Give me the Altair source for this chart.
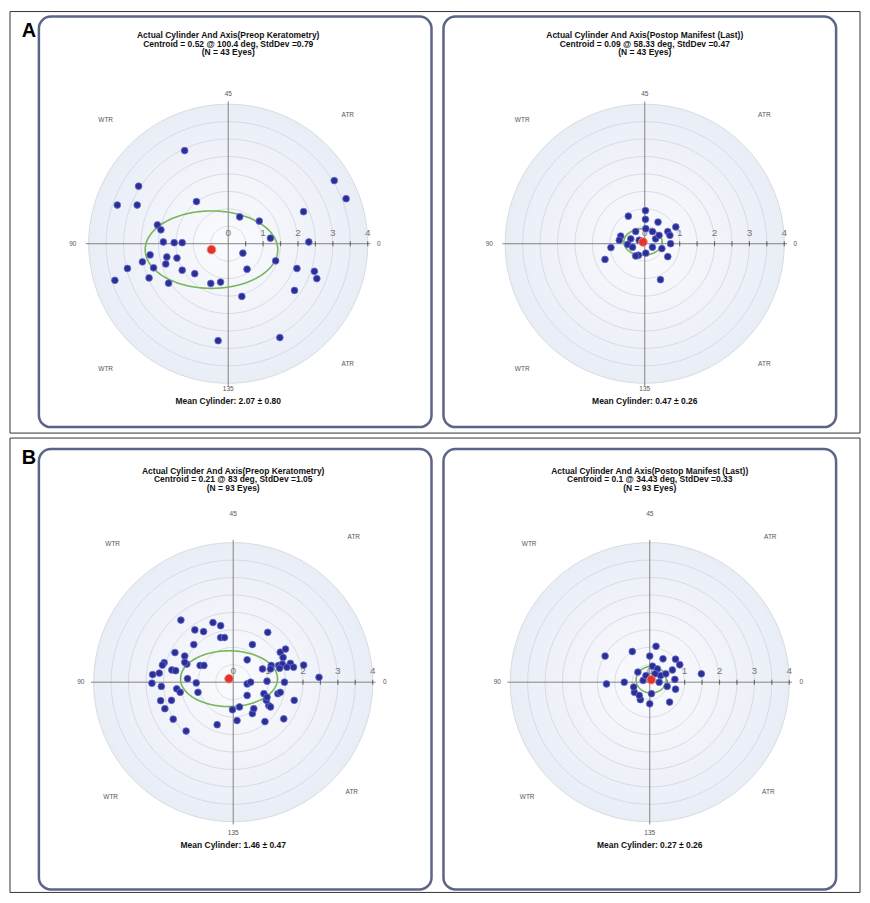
import numpy as np
import pandas as pd
import altair as alt

# ---------------- data (cylinder vectors in double-angle space, diopters) ----------------
A_PRE_X = [-1.25, -2.57, -3.18, -2.61, -0.91, -2.03, -1.93, -1.86, -1.55, -1.32, 0.33, 0.89, 1.21, 2.16,
           3.04, 3.38, 2.31, 0.42, 1.36, 0.54, 1.97, 2.47, 2.54, 1.90, 0.39, -0.22, -0.50, -0.96, -1.32,
           -1.47, -1.76, -1.79, -2.14, -2.24, -2.46, -2.89, -3.25, -2.27, -1.71, -0.29, 1.48]
A_PRE_Y = [2.67, 1.65, 1.11, 1.11, 1.21, 0.54, 0.40, 0.05, 0.03, 0.03, 0.77, 0.65, 0.16, 0.92,
           1.81, 1.29, 0.05, -0.27, -0.49, -0.73, -0.71, -0.79, -1.00, -1.34, -1.51, -1.10, -1.14, -0.86, -0.76,
           -0.41, -0.38, -0.58, -0.69, -0.32, -0.52, -0.71, -1.05, -0.98, -1.13, -2.78, -2.69]

A_POST_X = [0.02, 0.02, -0.47, 0.38, 0.89, 0.66, 0.72, 0.74, -0.69, -0.73, -0.49, -0.97, -1.14, -0.26,
            0.03, -0.18, -0.26, 0.22, 0.49, 0.66, 0.45, 0.03, -0.35, 0.31, 0.41, -0.16, 0.22, -0.40]
A_POST_Y = [0.95, 0.70, 0.79, 0.62, 0.48, 0.35, 0.24, 0.00, 0.22, 0.10, -0.02, -0.11, -0.45, 0.35,
            0.43, -0.33, -0.35, -0.10, -0.14, -0.37, -1.03, -0.27, -0.10, 0.14, 0.24, 0.10, 0.35, 0.14]

B_PRE_X = [-1.50, -1.10, -0.85, -0.58, -0.36, -0.36, -0.25, -1.13, -1.67, -1.39, -1.33, -1.98, -2.03, -1.76,
           -1.65, -2.31, -2.12, -2.33, -2.06, -1.31, -1.06, -0.95, -0.84, -1.62, -1.52, -1.01, -2.08, -1.96,
           -1.77, -1.72, -1.35, -0.46, -0.02, 0.18, 0.11, 0.55, 0.59, 0.91, 1.02, 0.95, 1.07, 1.45, 1.75,
           1.28, 1.35, 1.47, 0.97, 0.40, 0.40, 0.50, 0.84, 1.09, 1.30, 1.41, 1.64, 1.73, 2.02, 2.46, 1.35,
           1.50, 1.43, 0.99, 0.55, 0.40, 1.07, 1.54, 1.33, 0.88, 0.97, -1.39]
B_PRE_Y = [1.78, 1.50, 1.45, 1.71, 1.62, 1.28, 1.28, 1.08, 0.85, 0.75, 0.52, 0.56, 0.49, 0.35,
           0.33, 0.22, 0.26, -0.03, -0.12, 0.10, -0.02, 0.48, 0.48, -0.19, -0.29, -0.29, -0.53, -0.76,
           -0.52, -1.06, -1.40, -1.22, -0.79, -0.71, -1.10, -0.90, -0.76, -1.13, -0.67, -0.52, -0.71, -1.05, -0.52,
           -0.33, -0.29, 0.00, 0.03, -0.38, -0.05, 0.00, 0.38, 0.48, 0.48, 0.52, 0.54, 0.43, 0.49, 0.14, 0.86,
           0.95, 0.71, 1.43, 1.08, 0.64, 0.38, 0.43, 0.40, -0.33, -0.43, 0.57]

B_POST_X = [-1.28, -0.50, 0.18, 0.00, 0.38, 0.74, 0.86, 0.65, 1.48, 0.72, 0.74, 0.57, 0.00, -0.27, -0.44,
            -0.46, -0.73, -1.24, -0.34, 0.08, 0.22, 0.31, 0.50, 0.27, 0.05, -0.19, -0.30, 0.46, -0.11, 0.15]
B_POST_Y = [0.75, 0.88, 1.03, 0.75, 0.67, 0.66, 0.50, 0.35, 0.24, 0.08, -0.20, -0.57, -0.62, -0.50, -0.29,
            -0.14, 0.00, -0.05, 0.29, 0.46, 0.38, 0.19, -0.12, 0.00, -0.33, 0.05, -0.38, 0.24, 0.19, 0.24]

CENTROIDS = [(-0.48, -0.17), (-0.05, 0.05), (-0.12, 0.10), (0.04, 0.07)]
ELLIPSE_AXES = [(1.90, 1.11), (0.55, 0.38), (1.39, 0.80), (0.43, 0.38)]

TITLE_1 = ["Actual Cylinder And Axis(Preop Keratometry)", "Actual Cylinder And Axis(Postop Manifest (Last))",
           "Actual Cylinder And Axis(Preop Keratometry)", "Actual Cylinder And Axis(Postop Manifest (Last))"]
TITLE_2 = ["Centroid = 0.52 @ 100.4 deg, StdDev =0.79", "Centroid = 0.09 @ 58.33 deg, StdDev =0.47",
           "Centroid = 0.21 @ 83 deg, StdDev =1.05", "Centroid = 0.1 @ 34.43 deg, StdDev =0.33"]
TITLE_3 = ["(N = 43 Eyes)", "(N = 43 Eyes)", "(N = 93 Eyes)", "(N = 93 Eyes)"]
MEAN_CYL = ["Mean Cylinder: 2.07 ± 0.80", "Mean Cylinder: 0.47 ± 0.26",
            "Mean Cylinder: 1.46 ± 0.47", "Mean Cylinder: 0.27 ± 0.26"]
AXIS_LABELS = ["45", "90", "135", "0"]
ZONE_LABELS = ["WTR", "ATR", "WTR", "ATR"]
RINGS = [0.5, 1.0, 1.5, 2.0, 2.5, 3.0, 3.5, 4.0]
TICKS = [0.5, 1.0, 1.5, 2.0, 2.5, 3.0, 3.5, 4.0]
TICK_LABELS = ["0", "1", "2", "3", "4"]
LETTERS = ["A", "B"]

# ---------------- layout (pixels) ----------------
UNIT = 35.0
FONT = "Liberation Sans"
W = 394
GAP_X = 12
FRAME_LEFT = -29
FRAME_RIGHT = 2 * W + GAP_X + 24


def panel(i, xs, ys, H, cx, cy, t_y, ax_off, zone_off, mean_dy, frame=None, letter=None):
    xdom = [-cx / UNIT, (W - cx) / UNIT]
    ydom = [-(H - cy) / UNIT, cy / UNIT]
    xsc = alt.Scale(domain=xdom, nice=False, zero=False)
    ysc = alt.Scale(domain=ydom, nice=False, zero=False)

    def X(f):
        return alt.X(f, type="quantitative", scale=xsc, axis=None)

    def Y(f):
        return alt.Y(f, type="quantitative", scale=ysc, axis=None)

    layers = []
    one = pd.DataFrame({"a": [0]})

    # outer frame of the row (drawn from the left panel; flush layout ignores it)
    if frame is not None:
        ft, fb = frame

        def rule(x1, x2, y1, y2):
            return alt.Chart(one).mark_rule(color="#333", strokeWidth=1).encode(
                x=alt.value(x1), x2=alt.value(x2), y=alt.value(y1), y2=alt.value(y2))

        layers += [rule(FRAME_LEFT, FRAME_LEFT, ft, fb), rule(FRAME_RIGHT, FRAME_RIGHT, ft, fb),
                   rule(FRAME_LEFT, FRAME_RIGHT, ft, ft), rule(FRAME_LEFT, FRAME_RIGHT, fb, fb)]

    # disk background
    t = np.linspace(0, np.pi, 361)
    R = RINGS[-1]
    disk = pd.DataFrame({"x": R * np.cos(t), "y": R * np.sin(t), "y2": -R * np.sin(t)})
    grad = {"gradient": "radial", "x1": 0.5, "y1": 0.5, "x2": 0.5, "y2": 0.5, "r1": 0, "r2": 0.5,
            "stops": [{"offset": 0, "color": "#fafbfe"}, {"offset": 1, "color": "#e9edf6"}]}
    layers.append(alt.Chart(disk).mark_area(color=grad, orient="vertical").encode(
        x=X("x"), y=Y("y"), y2=alt.Y2("y2")))
    # rings
    th = np.linspace(0, 2 * np.pi, 241)
    rings = pd.concat([pd.DataFrame({"x": r * np.cos(th), "y": r * np.sin(th), "r": r, "o": np.arange(len(th))})
                       for r in RINGS])
    layers.append(alt.Chart(rings).mark_line(stroke="#d3d7df", strokeWidth=0.9).encode(
        x=X("x"), y=Y("y"), detail="r:N", order="o:Q"))
    # axes
    ext = 4.08
    axes = pd.DataFrame({"x": [-ext, 0.0], "x2": [ext, 0.0], "y": [0.0, -ext], "y2": [0.0, ext]})
    layers.append(alt.Chart(axes).mark_rule(color="#777777", strokeWidth=0.9).encode(
        x=X("x"), x2=alt.X2("x2"), y=Y("y"), y2=alt.Y2("y2")))
    ticks = pd.DataFrame({"x": TICKS, "y": [0.0] * len(TICKS)})
    layers.append(alt.Chart(ticks).mark_tick(orient="vertical", size=5, thickness=1.2, color="#444").encode(
        x=X("x"), y=Y("y")))
    tl = pd.DataFrame({"x": [float(v) for v in TICK_LABELS], "y": [0.0] * len(TICK_LABELS), "t": TICK_LABELS})
    layers.append(alt.Chart(tl).mark_text(dy=-11, fontSize=10, color="#757575", font=FONT).encode(
        x=X("x"), y=Y("y"), text="t:N"))
    # ellipse
    cxd, cyd = CENTROIDS[i]
    a, b = ELLIPSE_AXES[i]
    ell = pd.DataFrame({"x": cxd + a * np.cos(th), "y": cyd + b * np.sin(th), "o": np.arange(len(th))})
    layers.append(alt.Chart(ell).mark_line(stroke="#78b65a", strokeWidth=1.6).encode(
        x=X("x"), y=Y("y"), order="o:Q"))
    # points
    pts = pd.DataFrame({"x": xs, "y": ys})
    layers.append(alt.Chart(pts).mark_point(filled=True, shape="circle", size=46, fill="#2b2e94",
                                            stroke="#6a6ed0", strokeWidth=0.8, opacity=1).encode(
        x=X("x"), y=Y("y")))
    cen = pd.DataFrame({"x": [cxd], "y": [cyd]})
    layers.append(alt.Chart(cen).mark_point(filled=True, shape="circle", size=75, fill="#e3342b",
                                            stroke="#f08a80", strokeWidth=1, opacity=1).encode(
        x=X("x"), y=Y("y")))

    def txt(s, px, py, size, bold=False, color="#111", align="center", baseline="middle"):
        return alt.Chart(one).mark_text(text=s, fontSize=size, fontWeight="bold" if bold else "normal",
                                         color=color, font=FONT, align=align, baseline=baseline).encode(
            x=alt.value(px), y=alt.value(py))

    # titles
    layers.append(txt(TITLE_1[i], cx, t_y[0], 8.5, True))
    layers.append(txt(TITLE_2[i], cx, t_y[1], 8.5, True))
    layers.append(txt(TITLE_3[i], cx, t_y[2], 8.5, True))
    layers.append(txt(MEAN_CYL[i], cx, cy + mean_dy, 8.5, True))
    # axis labels 45 / 90 / 135 / 0 and zone labels
    for lab, (dx, dy) in zip(AXIS_LABELS, ax_off):
        layers.append(txt(lab, cx + dx, cy + dy, 6.5, False, "#555"))
    for lab, (dx, dy) in zip(ZONE_LABELS, zone_off):
        layers.append(txt(lab, cx + dx, cy + dy, 6.5, False, "#555"))
    if letter and frame is not None:
        layers.append(txt(letter, -10, frame[0] + 26, 20, True, "#000", baseline="alphabetic"))

    return alt.layer(*layers).properties(width=W, height=H)


A_AX = [(0, -150), (-156, 0), (0, 146), (151, 0)]
A_ZONE = [(-123, -124), (120, -129), (-123, 126), (120, 121)]
B_AX = [(0, -169), (-153, 0), (0, 151), (152, 0)]
B_ZONE = [(-121, -139), (121, -146), (-123, 115), (119, 110)]

pA1 = panel(0, A_PRE_X, A_PRE_Y, 412, 190, 228, [19, 27.5, 36], A_AX, A_ZONE, 158, frame=(-5, 418), letter="A")
pA2 = panel(1, A_POST_X, A_POST_Y, 412, 202, 228, [19, 27.5, 36], A_AX, A_ZONE, 158)
pB1 = panel(2, B_PRE_X, B_PRE_Y, 442, 195, 234, [22, 30.5, 39], B_AX, B_ZONE, 163, frame=(-11, 445), letter="B")
pB2 = panel(3, B_POST_X, B_POST_Y, 442, 207, 234, [22, 30.5, 39], B_AX, B_ZONE, 163)

rowA = alt.hconcat(pA1, pA2, spacing=GAP_X, bounds="flush")
rowB = alt.hconcat(pB1, pB2, spacing=GAP_X, bounds="flush")

chart = alt.vconcat(rowA, rowB, spacing=1).properties(
    padding=0, autosize=alt.AutoSizeParams(type="pad"), background="white").configure_view(
    cornerRadius=12, stroke="#5c6488", strokeWidth=2.5, fill="white")

chart.save("out.html", embed_options={"renderer": "svg", "actions": False})
